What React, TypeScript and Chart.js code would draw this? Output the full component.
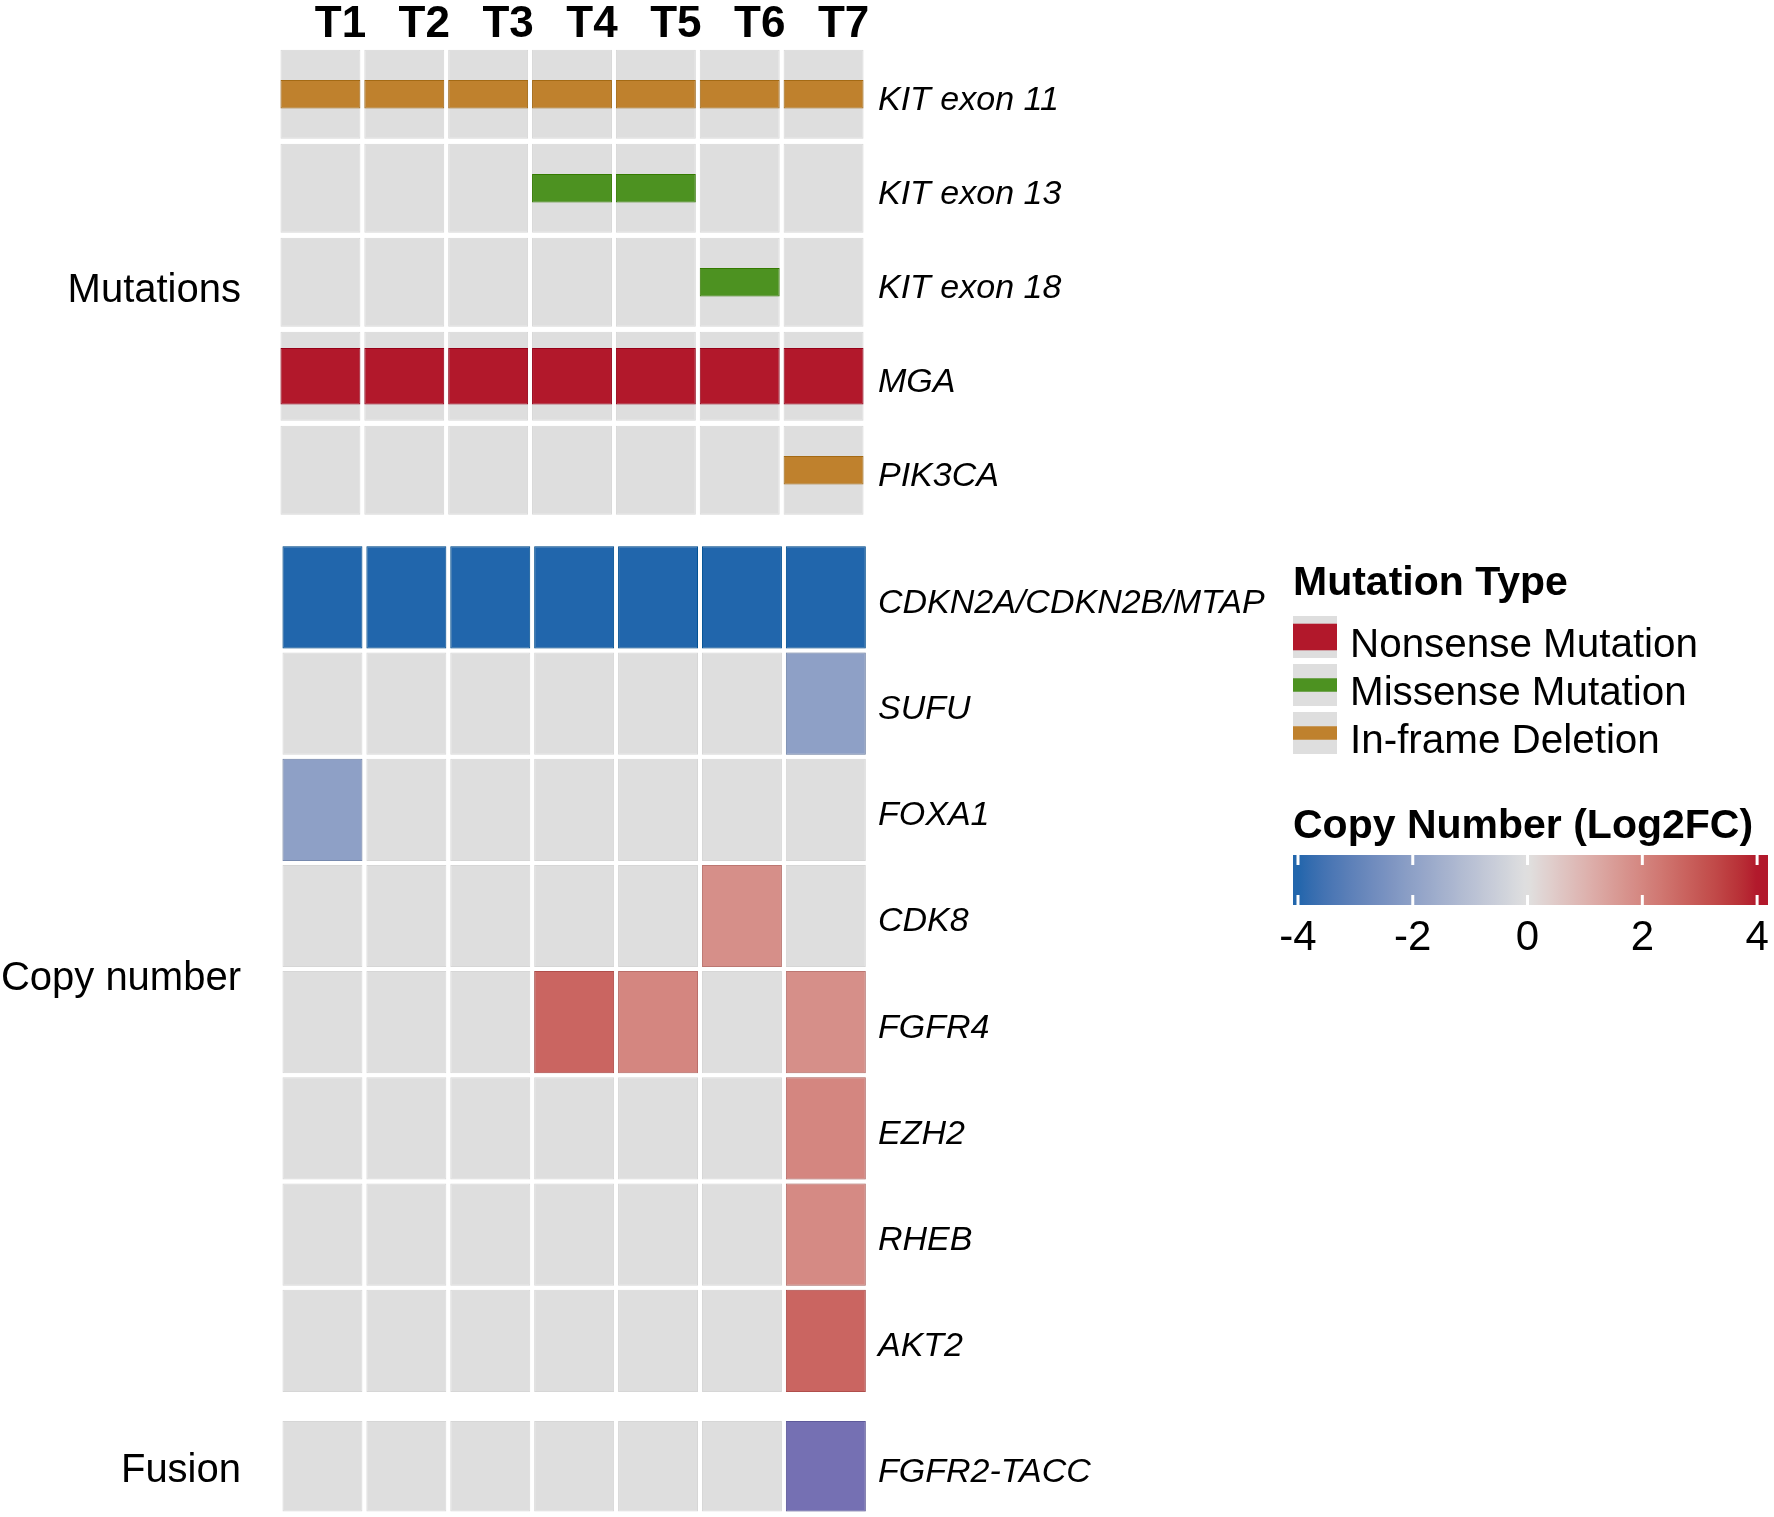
import React, { useEffect, useRef } from 'react';
import { Chart, registerables } from 'chart.js';

Chart.register(...registerables);

// ---------------- data ----------------
const tumours = ['T1', 'T2', 'T3', 'T4', 'T5', 'T6', 'T7'];

const NS = 'Nonsense Mutation';
const MS = 'Missense Mutation';
const IF = 'In-frame Deletion';
const mutationTypes = [NS, MS, IF];

const mutationGenes = ['KIT exon 11', 'KIT exon 13', 'KIT exon 18', 'MGA', 'PIK3CA'];
const mutationCalls: (string | null)[][] = [
  [IF, IF, IF, IF, IF, IF, IF],
  [null, null, null, MS, MS, null, null],
  [null, null, null, null, null, MS, null],
  [NS, NS, NS, NS, NS, NS, NS],
  [null, null, null, null, null, null, IF],
];

const cnGenes = ['CDKN2A/CDKN2B/MTAP', 'SUFU', 'FOXA1', 'CDK8', 'FGFR4', 'EZH2', 'RHEB', 'AKT2'];
const cnLog2FC: (number | null)[][] = [
  [-4, -4, -4, -4, -4, -4, -4],
  [null, null, null, null, null, null, -2],
  [-2, null, null, null, null, null, null],
  [null, null, null, null, null, 1.8, null],
  [null, null, null, 2.7, 2.0, null, 1.8],
  [null, null, null, null, null, null, 2.0],
  [null, null, null, null, null, null, 1.9],
  [null, null, null, null, null, null, 2.7],
];

const fusionGenes = ['FGFR2-TACC'];
const fusionCalls: boolean[][] = [[false, false, false, false, false, false, true]];

const colorbarTicks = [-4, -2, 0, 2, 4];

// ---------------- style ----------------
const FONT = '"Liberation Sans", Arial, sans-serif';
const NARROW = '"Liberation Sans Narrow", "Arial Narrow", "Liberation Sans", sans-serif';
const GRAY = '#DEDEDE';
const GRAY_EDGE = '#D6D6D6';
const mutationColors: Record<string, string> = { [NS]: '#B2182B', [MS]: '#4D9221', [IF]: '#BF812D' };
const mutationBarHalf: Record<string, number> = { [NS]: 0.3, [MS]: 0.152, [IF]: 0.152 };
const fusionColor = '#7570B3';
const cnLow = '#2166AC';
const cnMid = '#E0E0E0';
const cnHigh = '#B2182B';
const CN_LIMIT = 4;

// ---------------- colour helpers (CIELAB interpolation) ----------------
const Xn = 0.95047, Yn = 1, Zn = 1.08883;
const hexToRgb = (h: string) => {
  const n = parseInt(h.slice(1), 16);
  return [(n >> 16) & 255, (n >> 8) & 255, n & 255];
};
const toLin = (c: number) => {
  c /= 255;
  return c <= 0.04045 ? c / 12.92 : Math.pow((c + 0.055) / 1.055, 2.4);
};
const fromLin = (c: number) => {
  const v = c <= 0.0031308 ? 12.92 * c : 1.055 * Math.pow(Math.max(c, 0), 1 / 2.4) - 0.055;
  return Math.round(Math.min(1, Math.max(0, v)) * 255);
};
const fLab = (t: number) => (t > 0.008856 ? Math.cbrt(t) : 7.787 * t + 16 / 116);
const fInv = (t: number) => (t > 0.206893 ? t * t * t : (t - 16 / 116) / 7.787);
const rgbToLab = (rgb: number[]) => {
  const [R, G, B] = rgb.map(toLin);
  const X = (0.4124 * R + 0.3576 * G + 0.1805 * B) / Xn;
  const Y = (0.2126 * R + 0.7152 * G + 0.0722 * B) / Yn;
  const Z = (0.0193 * R + 0.1192 * G + 0.9505 * B) / Zn;
  const fx = fLab(X), fy = fLab(Y), fz = fLab(Z);
  return [116 * fy - 16, 500 * (fx - fy), 200 * (fy - fz)];
};
const labToCss = ([L, a, b]: number[]) => {
  const fy = (L + 16) / 116, fx = fy + a / 500, fz = fy - b / 200;
  const X = Xn * fInv(fx), Y = Yn * fInv(fy), Z = Zn * fInv(fz);
  const R = 3.2406 * X - 1.5372 * Y - 0.4986 * Z;
  const G = -0.9689 * X + 1.8758 * Y + 0.0415 * Z;
  const B = 0.0557 * X - 0.204 * Y + 1.057 * Z;
  return 'rgb(' + fromLin(R) + ',' + fromLin(G) + ',' + fromLin(B) + ')';
};
const labLow = rgbToLab(hexToRgb(cnLow));
const labMid = rgbToLab(hexToRgb(cnMid));
const labHigh = rgbToLab(hexToRgb(cnHigh));
const mix = (p: number[], q: number[], t: number) => p.map((v, i) => v + (q[i] - v) * t);
function cnLab(v: number) {
  const c = Math.max(-CN_LIMIT, Math.min(CN_LIMIT, v));
  if (c < 0) return mix(labLow, labMid, (c + CN_LIMIT) / CN_LIMIT);
  return mix(labMid, labHigh, c / CN_LIMIT);
}
const cnColor = (v: number) => labToCss(cnLab(v));
const darkerLab = (lab: number[]) => labToCss([lab[0] - 9, lab[1], lab[2]]);
const cnEdge = (v: number) => darkerLab(cnLab(v));
const hexEdge = (hex: string) => darkerLab(rgbToLab(hexToRgb(hex)));

// ---------------- plugins ----------------
const sectionTitlePlugin = {
  id: 'sectionTitle',
  afterDraw(chart: any, _args: any, opts: any) {
    if (!opts || !opts.text) return;
    const { ctx, chartArea } = chart;
    ctx.save();
    ctx.font = '40px ' + FONT;
    ctx.fillStyle = '#000';
    ctx.textAlign = 'right';
    ctx.textBaseline = 'middle';
    ctx.fillText(opts.text, opts.x, (chartArea.top + chartArea.bottom) / 2 + opts.dy);
    ctx.restore();
  },
};

const legendPlugin = {
  id: 'legendDecor',
  afterDraw(chart: any) {
    const { ctx, chartArea, scales } = chart;
    const { left, right, top, bottom } = chartArea;
    const x = scales.x;
    ctx.save();
    // colour bar
    const grad = ctx.createLinearGradient(left, 0, right, 0);
    const N = 80;
    for (let i = 0; i <= N; i++) {
      const v = x.min + ((x.max - x.min) * i) / N;
      grad.addColorStop(i / N, cnColor(v));
    }
    ctx.fillStyle = grad;
    ctx.fillRect(left, top, right - left, bottom - top);
    ctx.fillStyle = '#fff';
    for (const t of colorbarTicks) {
      const px = x.getPixelForValue(t);
      ctx.fillRect(px - 1.5, top, 3, 10);
      ctx.fillRect(px - 1.5, bottom - 10, 3, 10);
    }
    // mutation type legend
    ctx.fillStyle = '#000';
    ctx.textAlign = 'left';
    ctx.textBaseline = 'alphabetic';
    ctx.font = 'bold 41px ' + FONT;
    ctx.fillText('Mutation Type', left, 55);
    ctx.fillText('Copy Number (Log2FC)', left, 298);
    const keyW = 44, keyH = 42, keyTop = 76, keyStep = 48;
    mutationTypes.forEach((type, i) => {
      const y0 = keyTop + i * keyStep;
      ctx.fillStyle = GRAY;
      ctx.fillRect(left, y0, keyW, keyH);
      const h = keyH * mutationBarHalf[type] * 2.11;
      ctx.fillStyle = mutationColors[type];
      ctx.fillRect(left, y0 + (keyH - h) / 2, keyW, h);
      ctx.fillStyle = '#000';
      ctx.font = '40.4px ' + FONT;
      ctx.fillText(type, left + 57, y0 + 41);
    });
    ctx.restore();
  },
};

// ---------------- chart builders ----------------
const barBase = {
  type: 'bar' as const,
  grouped: false,
  categoryPercentage: 1,
  barPercentage: 0.953,
  borderWidth: 1,
  borderSkipped: false,
};

function backgroundCells(genes: string[], half: number) {
  return {
    ...barBase,
    label: 'none',
    order: 10,
    backgroundColor: GRAY,
    borderColor: GRAY_EDGE,
    data: genes.flatMap((_g, r) => tumours.map((t) => ({ x: t, y: [r - half, r + half] }))),
  };
}

type SectionOpts = {
  genes: string[];
  title: string;
  titleDy: number;
  showTumours: boolean;
  padding: { left: number; right: number; top: number; bottom: number };
  yAxisWidth: number;
  labelPad: number;
  datasets: any[];
};

function sectionConfig(s: SectionOpts): any {
  const xAxis: any = {
    type: 'category',
    labels: tumours,
    offset: true,
    position: 'top',
    display: s.showTumours,
    grid: { display: false, drawTicks: false },
    border: { display: false },
    ticks: {
      color: '#000',
      font: { family: NARROW, size: 44, weight: 'bold' },
      padding: -4.5,
      labelOffset: 20,
      maxRotation: 0,
      autoSkip: false,
    },
  };
  if (s.showTumours) {
    xAxis.afterFit = (sc: any) => {
      sc.height = 47.25;
      sc.paddingLeft = 0;
      sc.paddingRight = 0;
    };
  }
  return {
    type: 'bar',
    data: { labels: tumours, datasets: s.datasets },
    plugins: [sectionTitlePlugin],
    options: {
      responsive: false,
      animation: false,
      events: [],
      devicePixelRatio: 1,
      layout: { padding: s.padding },
      plugins: {
        legend: { display: false },
        tooltip: { enabled: false },
        sectionTitle: { text: s.title, x: 241, dy: s.titleDy },
      },
      scales: {
        x: xAxis,
        y: {
          type: 'linear',
          reverse: true,
          bounds: 'data',
          min: -0.5,
          max: s.genes.length - 0.5,
          position: 'right',
          grid: { display: false, drawTicks: false },
          border: { display: false },
          afterBuildTicks: (sc: any) => {
            sc.ticks = s.genes.map((_g, i) => ({ value: i }));
          },
          ticks: {
            color: '#000',
            font: { family: FONT, size: 34, style: 'italic' },
            padding: s.labelPad,
            labelOffset: 6,
            autoSkip: false,
            callback: (v: number) => s.genes[Math.round(v)] ?? '',
          },
          afterFit: (sc: any) => {
            sc.width = s.yAxisWidth;
            sc.paddingTop = 0;
            sc.paddingBottom = 0;
          },
        },
      },
    },
  };
}

function mutationConfig() {
  const half = 0.473;
  const datasets = [
    ...mutationTypes.map((type) => ({
      ...barBase,
      label: type,
      order: 1,
      backgroundColor: mutationColors[type],
      borderColor: hexEdge(mutationColors[type]),
      data: mutationGenes.flatMap((_g, r) =>
        tumours.flatMap((t, c) =>
          mutationCalls[r][c] === type
            ? [{ x: t, y: [r - mutationBarHalf[type], r + mutationBarHalf[type]] }]
            : []
        )
      ),
    })),
    backgroundCells(mutationGenes, half),
  ];
  return sectionConfig({
    genes: mutationGenes,
    title: 'Mutations',
    titleDy: 8.5,
    showTumours: true,
    padding: { left: 278.5, right: 0, top: 0, bottom: 12.75 },
    yAxisWidth: 404.5,
    labelPad: 12.5,
    datasets,
  });
}

function copyNumberConfig() {
  const half = 0.481;
  const datasets = [
    {
      ...barBase,
      label: 'Copy number',
      order: 1,
      backgroundColor: (ctx: any) => (ctx.raw ? cnColor(ctx.raw.v) : 'transparent'),
      borderColor: (ctx: any) => (ctx.raw ? cnEdge(ctx.raw.v) : 'transparent'),
      data: cnGenes.flatMap((_g, r) =>
        tumours.flatMap((t, c) => {
          const v = cnLog2FC[r][c];
          return v === null ? [] : [{ x: t, y: [r - half, r + half], v }];
        })
      ),
    },
    backgroundCells(cnGenes, half),
  ];
  return sectionConfig({
    genes: cnGenes,
    title: 'Copy number',
    titleDy: 9.5,
    showTumours: false,
    padding: { left: 280.5, right: 0, top: 14.3, bottom: 11.1 },
    yAxisWidth: 422.2,
    labelPad: 10.2,
    datasets,
  });
}

function fusionConfig() {
  const half = 0.476;
  const datasets = [
    {
      ...barBase,
      label: 'Fusion',
      order: 1,
      backgroundColor: fusionColor,
      borderColor: hexEdge(fusionColor),
      data: fusionGenes.flatMap((_g, r) =>
        tumours.flatMap((t, c) => (fusionCalls[r][c] ? [{ x: t, y: [r - half, r + half] }] : []))
      ),
    },
    backgroundCells(fusionGenes, half),
  ];
  return sectionConfig({
    genes: fusionGenes,
    title: 'Fusion',
    titleDy: 5,
    showTumours: false,
    padding: { left: 280.5, right: 0, top: 13.6, bottom: 3.1 },
    yAxisWidth: 422.2,
    labelPad: 10.2,
    datasets,
  });
}

function legendConfig(): any {
  return {
    type: 'scatter',
    data: { datasets: [] },
    plugins: [legendPlugin],
    options: {
      responsive: false,
      animation: false,
      events: [],
      devicePixelRatio: 1,
      layout: { padding: { left: 23, right: 6, top: 315, bottom: 0 } },
      plugins: { legend: { display: false }, tooltip: { enabled: false } },
      scales: {
        x: {
          type: 'linear',
          position: 'bottom',
          bounds: 'data',
          min: -4.087,
          max: 4.19,
          grid: { display: false, drawTicks: false },
          border: { display: false },
          afterBuildTicks: (sc: any) => {
            sc.ticks = colorbarTicks.map((v) => ({ value: v }));
          },
          ticks: {
            color: '#000',
            font: { family: FONT, size: 42 },
            padding: 8,
            maxRotation: 0,
            autoSkip: false,
            callback: (v: number) => String(v),
          },
          afterFit: (sc: any) => {
            sc.height = 75;
            sc.paddingLeft = 0;
            sc.paddingRight = 0;
          },
        },
        y: { display: false },
      },
    },
  };
}

// ---------------- components ----------------
function ChartCanvas(props: { make: () => any; left: number; top: number; width: number; height: number }) {
  const ref = useRef<HTMLCanvasElement>(null);
  useEffect(() => {
    const chart = new Chart(ref.current as HTMLCanvasElement, props.make());
    return () => chart.destroy();
  }, []);
  return (
    <canvas
      ref={ref}
      width={props.width}
      height={props.height}
      style={{
        position: 'absolute',
        left: props.left,
        top: props.top,
        width: props.width,
        height: props.height,
        display: 'block',
      }}
    />
  );
}

export default function App() {
  return (
    <div
      style={{
        position: 'absolute',
        left: 0,
        top: 0,
        width: 1774,
        height: 1517,
        overflow: 'hidden',
        background: '#fff',
      }}
    >
      <ChartCanvas make={mutationConfig} left={0} top={0} width={1270} height={530} />
      <ChartCanvas make={copyNumberConfig} left={0} top={530} width={1290} height={875} />
      <ChartCanvas make={fusionConfig} left={0} top={1405} width={1290} height={112} />
      <ChartCanvas make={legendConfig} left={1270} top={540} width={504} height={440} />
    </div>
  );
}
